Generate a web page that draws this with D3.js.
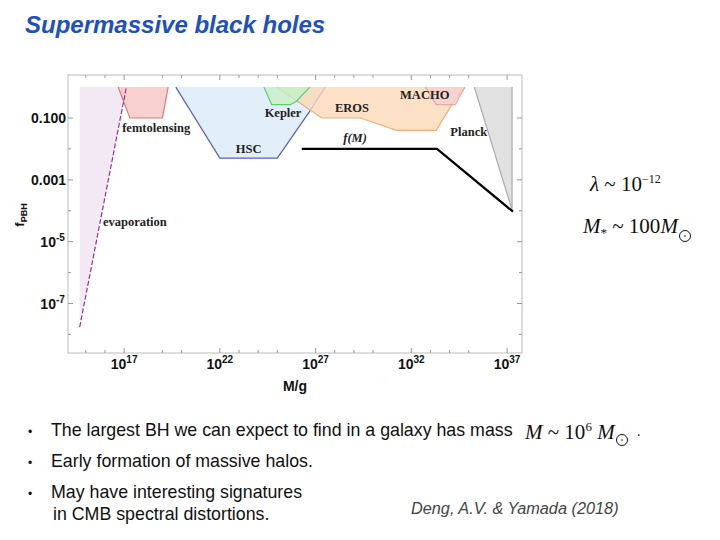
<!DOCTYPE html>
<html><head><meta charset="utf-8">
<script src="https://cdn.jsdelivr.net/npm/d3@7"></script>
<style>body{margin:0;background:#fff}svg{display:block}</style>
</head><body><svg id="c" width="720" height="540"></svg>
<script>
// constraint regions, [log10 M/g, log10 f]
const evaporation = [[14.68, 0], [17.12, 0], [14.68, -7.76]];
const femtolensing = [[16.69, 0], [17.3, -1], [19.0, -1], [19.3, 0]];
const hsc = [[19.7, 0], [22.0, -2.3], [25.0, -2.3], [26.7, -0.78], [27.5, 0]];
const kepler = [[24.3, 0], [24.71, -0.57], [25.67, -0.57], [26.0, -0.46], [26.7, 0]];
const eros = [[24.97, 0], [27.32, -1], [29.33, -1], [31.24, -1.4], [33.3, -1.4], [34.12, -0.57], [34.8, 0]];
const macho = [[32.73, 0], [33.3, -0.57], [34.3, -0.57], [34.8, 0]];
const planck = [[35.29, 0], [37.26, -3.97], [37.26, 0]];
const fM = [[26.28, -2.0], [33.34, -2.0], [37.31, -4.03]];
const xTicks = [17, 22, 27, 32, 37];
const xMinor = [15, 16, 19, 20, 23, 24, 25, 28, 29, 30, 33, 34, 35];
const yTicks = [-1, -3, -5, -7];
const yMinor = [-2, -4, -6, -8];
const labels = [
  ["femtolensing", 16.9, -1.45, "start"], ["HSC", 23.5, -2.12, "middle"],
  ["Kepler", 25.3, -0.97, "middle"], ["EROS", 28.9, -0.82, "middle"],
  ["MACHO", 32.7, -0.39, "middle"], ["Planck", 35.0, -1.57, "middle"],
  ["evaporation", 17.56, -4.5, "middle"]
];

const svg = d3.select("#c");
const p = v => Math.pow(10, v);
const x = d3.scaleLog().domain([p(14.07), p(37.78)]).range([68, 522]);
const y = d3.scaleLog().domain([p(-8.6), p(0.39)]).range([353, 75]);
const line = d3.line().x(d => x(p(d[0]))).y(d => y(p(d[1])));

svg.append("text").attr("x", 25).attr("y", 33).attr("font-family", "Liberation Sans")
  .attr("font-size", 24).attr("font-style", "italic").attr("font-weight", "bold")
  .attr("fill", "#2050c0").text("Supermassive black holes");

svg.append("rect").attr("x", 68).attr("y", 75).attr("width", 454).attr("height", 278)
  .attr("fill", "none").attr("stroke", "#bbb");

const regions = [
  [evaporation, "#efe3f2", "none"], [femtolensing, "#f7c4c4", "#e07a7a"],
  [hsc, "#dbeaf8", "#5560c8"], [eros, "#fbd9b8", "#e9b07a"],
  [kepler, "#c6efc6", "#66cc66"], [macho, "#f6cfcf", "#e6a8a8"],
  [planck, "#d9d9d9", "#aaa"]
];
regions.forEach(([d, f, s]) => {
  svg.append("path").attr("d", line(d) + "Z").attr("fill", f).attr("fill-opacity", 0.8)
    .attr("stroke", "none");
  svg.append("path").attr("d", line(d))
    .attr("fill", "none").attr("stroke", s).attr("stroke-width", 1.2);
});
svg.append("path").attr("d", line([evaporation[2], evaporation[1]])).attr("fill", "none")
  .attr("stroke", "#a0308a").attr("stroke-width", 1.2).attr("stroke-dasharray", "5,2");
svg.append("path").attr("d", line(fM)).attr("fill", "none").attr("stroke", "#000").attr("stroke-width", 2.2);

const g = svg.append("g").attr("stroke", "#999");
xTicks.concat(xMinor).forEach(t => {
  const len = xTicks.includes(t) ? 5 : 3;
  g.append("line").attr("x1", x(p(t))).attr("x2", x(p(t))).attr("y1", 353).attr("y2", 353 - len);
  g.append("line").attr("x1", x(p(t))).attr("x2", x(p(t))).attr("y1", 75).attr("y2", 75 + len);
});
yTicks.concat(yMinor).forEach(t => {
  const len = yTicks.includes(t) ? 5 : 3;
  g.append("line").attr("y1", y(p(t))).attr("y2", y(p(t))).attr("x1", 68).attr("x2", 68 + len);
  g.append("line").attr("y1", y(p(t))).attr("y2", y(p(t))).attr("x1", 522).attr("x2", 522 - len);
});

const ax = svg.append("g").attr("font-family", "Liberation Sans").attr("font-weight", "bold").attr("fill", "#111");
xTicks.forEach(t => {
  const tx = ax.append("text").attr("x", x(p(t))).attr("y", 369).attr("text-anchor", "middle").attr("font-size", 14);
  tx.append("tspan").text("10");
  tx.append("tspan").attr("dy", -6).attr("font-size", 10).text(t);
});
ax.append("text").attr("x", 295).attr("y", 391).attr("text-anchor", "middle").attr("font-size", 14).text("M/g");
const yl = { "-1": "0.100", "-3": "0.001" };
yTicks.forEach(t => {
  const tx = ax.append("text").attr("x", 66).attr("y", y(p(t)) + 5).attr("text-anchor", "end").attr("font-size", 14);
  if (yl[t]) tx.text(yl[t]);
  else { tx.append("tspan").text("10"); tx.append("tspan").attr("dy", -6).attr("font-size", 10).text(t); tx.append("tspan").text("\u200a"); }
});
const fl = ax.append("text").attr("transform", "translate(24,215) rotate(-90)").attr("text-anchor", "middle").attr("font-size", 13);
fl.append("tspan").text("f");
fl.append("tspan").attr("dy", 3).attr("font-size", 9).text("PBH");

const lb = svg.append("g").attr("font-family", "Liberation Serif").attr("font-weight", "bold").attr("font-size", 12.5).attr("fill", "#222");
labels.forEach(([t, lx, ly, a]) => lb.append("text").attr("x", x(p(lx))).attr("y", y(p(ly))).attr("text-anchor", a).text(t));
lb.append("text").attr("x", x(p(29.06))).attr("y", y(p(-1.77))).attr("text-anchor", "middle").attr("font-style", "italic").text("f(M)");

const eq = svg.append("g").attr("font-family", "Liberation Serif").attr("font-size", 21).attr("fill", "#111");
let e = eq.append("text").attr("x", 590).attr("y", 191);
e.append("tspan").attr("font-style", "italic").text("λ");
e.append("tspan").text(" ~ 10");
e.append("tspan").attr("dy", -8).attr("font-size", 12).text("−12");
e = eq.append("text").attr("x", 583).attr("y", 233);
e.append("tspan").attr("font-style", "italic").text("M");
e.append("tspan").attr("dy", 4).attr("font-size", 13).text("*");
e.append("tspan").attr("dy", -4).text(" ~ 100");
e.append("tspan").attr("font-style", "italic").text("M");
eq.append("circle").attr("cx", 685).attr("cy", 236).attr("r", 5.5).attr("fill", "none").attr("stroke", "#111");
eq.append("circle").attr("cx", 685).attr("cy", 236).attr("r", 0.8).attr("fill", "#111");

const bt = svg.append("g").attr("font-family", "Liberation Sans").attr("font-size", 17.8).attr("fill", "#111");
[["The largest BH we can expect to find in a galaxy has mass", 436], ["Early formation of massive halos.", 467], ["May have interesting signatures", 498]]
  .forEach(([t, by]) => {
    bt.append("text").attr("x", 28).attr("y", by).attr("font-size", 12).text("•");
    bt.append("text").attr("x", 51).attr("y", by).text(t);
  });
bt.append("text").attr("x", 53).attr("y", 520).text("in CMB spectral distortions.");
e = eq.append("text").attr("x", 525).attr("y", 439).attr("font-size", 21);
e.append("tspan").attr("font-style", "italic").text("M");
e.append("tspan").text(" ~ 10");
e.append("tspan").attr("dy", -8).attr("font-size", 13).text("6");
e.append("tspan").attr("dy", 8).attr("font-style", "italic").text(" M");
eq.append("circle").attr("cx", 622).attr("cy", 440).attr("r", 5.5).attr("fill", "none").attr("stroke", "#111");
eq.append("circle").attr("cx", 622).attr("cy", 440).attr("r", 0.8).attr("fill", "#111");
eq.append("text").attr("x", 637).attr("y", 436).attr("font-size", 14).text(".");
svg.append("text").attr("x", 411).attr("y", 514).attr("font-family", "Liberation Sans").attr("font-size", 16.3)
  .attr("font-style", "italic").attr("fill", "#444").text("Deng, A.V. & Yamada (2018)");
</script></body></html>
